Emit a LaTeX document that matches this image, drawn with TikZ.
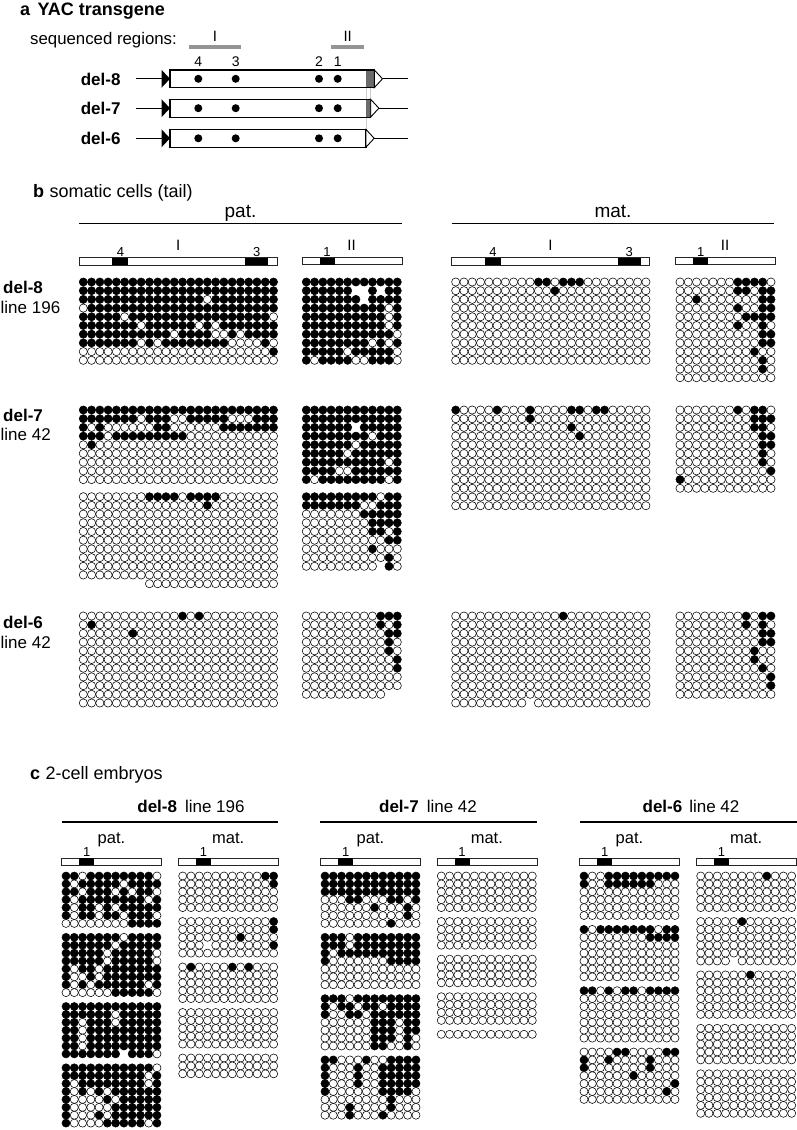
\documentclass[tikz,border=0pt]{standalone}
\usepackage{fontspec}
\setmainfont{Liberation Sans}
\usetikzlibrary{positioning}

\definecolor{bargray}{gray}{0.58}
\definecolor{endgray}{gray}{0.42}
\definecolor{guidegray}{gray}{0.8}

% grid of CpG circles: 1 = methylated, 0 = unmethylated, - = no data
\newcommand\cpdx{8.27}
\newcommand\cpdy{8.7}
\newcommand\cprad{4.1pt}
\newcommand\zs{000000000000}
\newcommand\zl{000000000000000000000000}

\makeatletter
\newcount\cp@col
\newcommand\cprow[3]{%
  \cp@col=0
  \def\cp@x{#1}\def\cp@y{#2}%
  \edef\cp@tmp{#3}%
  \expandafter\cp@scan\cp@tmp\@nil}
\def\cp@scan#1{%
  \ifx#1\@nil\else
    \cp@put#1%
    \advance\cp@col by 1
    \expandafter\cp@scan
  \fi}
\def\cp@put#1{%
  \if1#1\path[dotmeth] (\cp@x+\the\cp@col*\cpdx,\cp@y) circle[radius=\cprad];\fi
  \if0#1\path[dotunme] (\cp@x+\the\cp@col*\cpdx,\cp@y) circle[radius=\cprad];\fi}
\makeatother

\newcommand\cpgrid[3]{%
  \foreach \cprw [count=\cpri from 0] in {#3}{\cprow{#1}{#2+\cpri*\cpdy}{\cprw}}}
\newcommand\cpopen[4]{%
  \foreach \cpri in {1,...,#4}{\foreach \cpci in {1,...,#3}{%
    \path[dotunme] (#1+\cpci*\cpdx-\cpdx,#2+\cpri*\cpdy-\cpdy) circle[radius=\cprad];}}}

% sequenced region bars
\newcommand\longbar[2]{%
  \draw[regbar] (#1,#2) rectangle ++(198.3,7.3);
  \fill[black] (#1+33.3,#2) rectangle ++(16,7.3);
  \fill[black] (#1+166,#2) rectangle ++(23.3,7.3);}
\newcommand\shortbar[2]{%
  \draw[regbar] (#1,#2) rectangle ++(100,7);
  \fill[black] (#1+17.5,#2) rectangle ++(15,7);}

\begin{document}
\begin{tikzpicture}[x=1pt, y=-1pt,
  dotmeth/.style={fill=black, draw=black, line width=0.5pt},
  dotunme/.style={fill=white, draw=black, line width=0.55pt},
  regbar/.style={draw=black!85, fill=white, line width=0.7pt},
  ybox/.style={draw=black, line width=1.1pt},
  wire/.style={draw=black, line width=1.1pt},
  rule/.style={draw=black, line width=1.3pt},
  seqbar/.style={draw=bargray, line width=4pt},
  guide/.style={draw=guidegray, line width=0.8pt},
  ttl/.style={inner sep=0pt, font=\fontsize{18}{21}\selectfont},
  lbl/.style={inner sep=0pt, font=\fontsize{17}{20}\selectfont},
  strand/.style={inner sep=0pt, font=\fontsize{19}{22}\selectfont},
  strandc/.style={inner sep=0pt, font=\fontsize{16.5}{20}\selectfont},
  roman/.style={inner sep=0pt, font=\fontsize{15}{18}\selectfont},
  num/.style={inner sep=0pt, font=\fontsize{13}{15}\selectfont}]

\useasboundingbox[fill=white] (0,0) rectangle (797,1130);

%% a: transgene
\node[ttl, anchor=base west] (labA) at (20,15) {\bfseries a};
\node[ttl, base right=7pt of labA] (titA) {\bfseries YAC transgene};
\node[lbl, anchor=base west, font=\fontsize{16.8}{19}\selectfont] (seqreg) at (30,44) {sequenced regions:};
\draw[seqbar] (189,46.7) -- (240.7,46.7);
\draw[seqbar] (331,46.7) -- (364,46.7);
\node[roman, anchor=base] (aI) at (215,41.7) {I};
\node[roman, anchor=base] (aII) at (347.7,41.7) {II};
\node[num, anchor=base, font=\fontsize{14}{16}\selectfont] (a4) at (198.3,66.7) {4};
\node[num, anchor=base, font=\fontsize{14}{16}\selectfont] (a3) at (235.7,66.7) {3};
\node[num, anchor=base, font=\fontsize{14}{16}\selectfont] (a2) at (319,66.7) {2};
\node[num, anchor=base, font=\fontsize{14}{16}\selectfont] (a1) at (337.7,66.7) {1};

\draw[guide] (366.5,87.7) -- (366.5,129.4);
\draw[guide] (370.7,87.7) -- (370.7,99.3);

\foreach \nm/\yc/\ge in {8/78.8/374.3, 7/108.2/370.7, 6/138.3/366}{
  \node[lbl, anchor=base east] (del\nm) at (120.7,\yc+6.2) {\bfseries del-\nm};
  \draw[wire] (136,\yc) -- (163,\yc);
  \fill (161.5,\yc-9) -- (170,\yc) -- (161.5,\yc+9) -- cycle;
  \fill[white] (170,\yc-8.85) rectangle (\ge,\yc+8.85);
  \fill[endgray] (365.5,\yc-8.85) rectangle (\ge,\yc+8.85);
  \draw[ybox] (170,\yc-8.85) rectangle (\ge,\yc+8.85);
  \draw[ybox, fill=white, line width=0.9pt] (\ge,\yc-8.85) -- (\ge+8.2,\yc) -- (\ge,\yc+8.85) -- cycle;
  \draw[wire] (\ge+8.2,\yc) -- (408.3,\yc);
  \foreach \dx in {198.3,235.7,319,337.7}
    \fill (\dx,\yc) circle[radius=4pt];
}

%% b: somatic cells
\node[ttl, anchor=base west] (labB) at (33,197) {\bfseries b};
\node[ttl, base right=5pt of labB] (titB) {somatic cells (tail)};
\node[strand, anchor=base] (bpat) at (240.5,217) {pat.};
\node[strand, anchor=base] (bmat) at (613,217) {mat.};
\draw[rule] (79,223.3) -- (402,223.3);
\draw[rule] (451.7,223.3) -- (774.3,223.3);

\longbar{79}{257.7}
\shortbar{302}{257.7}
\longbar{451.5}{257.7}
\shortbar{675.7}{257.7}
\node[roman, anchor=base] (bpI) at (178.3,250) {I};
\node[roman, anchor=base] (bpII) at (351.5,250) {II};
\node[roman, anchor=base] (bmI) at (550.5,250) {I};
\node[roman, anchor=base] (bmII) at (725,250) {II};
\node[num, anchor=base] (bp4) at (120.6,256) {4};
\node[num, anchor=base] (bp3) at (256.7,256) {3};
\node[num, anchor=base] (bp1) at (327,256) {1};
\node[num, anchor=base] (bm4) at (493.1,256) {4};
\node[num, anchor=base] (bm3) at (629.2,256) {3};
\node[num, anchor=base] (bm1) at (700.7,256) {1};

\node[lbl, anchor=base west] (row8) at (3,293) {\bfseries del-8};
\node[lbl, anchor=base west] (row8l) at (0.5,313) {line 196};
\node[lbl, anchor=base west] (row7) at (3,421) {\bfseries del-7};
\node[lbl, anchor=base west] (row7l) at (0.5,440) {line 42};
\node[lbl, anchor=base west] (row6) at (3,628) {\bfseries del-6};
\node[lbl, anchor=base west] (row6l) at (0.5,648) {line 42};

% del-8
\cpgrid{83.3}{282}{111111111111111111111111,111111111111111111111111,
  111111111111111011111111,011111111111111111111111,111110111111111111111110,
  111111101111110101111111,111111111110111100101111,111111101011111111000010,
  000000000000000000000001,\zl}
\cpgrid{306.3}{282}{111111111111,111111--1-11,1111111-1111,111111111101,111111111101,
  111111111101,111111111110,111111110101,111110111110,101111001110}
\cpgrid{455.7}{282}{000000000011011100000000,000000000000100000000000,
  \zl,\zl,\zl,\zl,\zl,\zl,\zl,\zl}
\cpgrid{680}{282}{000000011110,000000011011,001000000011,000000010011,000000001111,
  000000010010,000000000011,000000000011,000000000100,000000000010,000000000010,\zs}

% del-7
\cpgrid{83.3}{410}{111111111111111111111111,111111101110011111000111,
  101000000110000001111111,111011111111100000000000,010000000000000000000000,
  \zl,\zl,\zl,\zl}
\cpgrid{83.3}{496.7}{000000001111011110000000,000000000000000100000000,
  \zl,\zl,\zl,\zl,\zl,\zl,\zl,\zl,--------0000000000000000}
\cpgrid{306.3}{410}{111111111111,111111111111,111111-11111,111111110111,111111011111,
  111110111111,111111111101,111100111111,101111111101}
\cpgrid{306.3}{496.7}{111111111011,111111100111,000000011111,000000001111,000000001101,
  000000000011,000000001000,000000000010,000000000-10}
\cpgrid{455.7}{410}{100001000100001101100000,000000000100000000000000,
  000000000000001000000000,000000000000000100000000,\zl,\zl,\zl,\zl,\zl,\zl,\zl,\zl}
\cpgrid{680}{410}{000000010110,000000000111,000000000110,000000000011,000000000011,
  000000000010,000000000010,000000000001,100000000000,\zs}

% del-6
\cpgrid{83.3}{616}{000000000000101000000000,010000000000000000000000,
  000000100000000000000000,\zl,\zl,\zl,\zl,\zl,\zl,\zl,\zl}
\cpgrid{306.3}{616}{000000000111,000000000101,000000000011,000000000010,000000000010,
  000000000001,000000000001,\zs,\zs,0000000000--}
\cpgrid{455.7}{616}{000000000000010000000000,\zl,\zl,\zl,\zl,\zl,\zl,\zl,\zl,\zl,
  000000000-00000000000000}
\cpgrid{680}{616}{000000001011,000000001010,000000000011,000000000011,000000000100,
  000000000100,000000000010,000000000001,000000000001,\zs}

%% c: 2-cell embryos
\node[ttl, anchor=base west] (labC) at (30,779) {\bfseries c};
\node[ttl, base right=5pt of labC] (titC) {2-cell embryos};

\node[lbl, anchor=base] (hd8) at (191,812) {\bfseries del-8\hspace{8pt}\mdseries line 196};
\node[lbl, anchor=base] (hd7) at (428,812) {\bfseries del-7\hspace{8pt}\mdseries line 42};
\node[lbl, anchor=base] (hd6) at (691,812) {\bfseries del-6\hspace{7pt}\mdseries line 42};
\draw[rule] (62,822) -- (278,822);
\draw[rule] (320,822) -- (537,822);
\draw[rule] (580,822) -- (797,822);

\foreach \gx/\nm in {66/p8, 182.7/m8, 325/p7, 441.3/m7, 584/p6, 700.7/m6}{
  \shortbar{\gx-4.3}{858}
  \node[num, anchor=base] (one\nm) at (\gx+20.7,856.5) {1};
}
\foreach \gx/\nm/\tx in {66/p8/pat., 182.7/m8/mat., 325/p7/pat., 441.3/m7/mat., 584/p6/pat., 700.7/m6/mat.}
  \node[strandc, anchor=base] (st\nm) at (\gx+45.5,843) {\tx};

\renewcommand\cpdy{7.9}
\renewcommand\cprad{4.05pt}
% del-8 pat
\cpgrid{66}{876}{110111111110,101111101111,110111010110,101111111101,101101011111,
  101101101110,000000001111}
\cpgrid{66}{937.3}{111111101111,111111011111,111110111110,111110111110,101101111111,
  100101111111,101011111101,000000111110}
\cpgrid{66}{1006.5}{111111111111,111111011111,110111011111,110111111111,110111111111,
  110111111111,1111111-1110}
\cpgrid{66}{1067.8}{111111111110,111111111101,101111111101,101010111111,100001011111,
  100000111111,100010111111,100001111101}
% del-8 mat
\cpgrid{182.7}{876}{000000000011,000000000001,\zs,\zs,\zs}
\cpgrid{182.7}{921.5}{000000000001,000000000001,000000010000,000-00000001,\zs}
\cpgrid{182.7}{967}{010000101000,\zs,\zs,\zs,\zs}
\cpopen{182.7}{1012.5}{12}{5}
\cpopen{182.7}{1058}{12}{3}

% del-7 pat
\cpgrid{325}{876}{111111111111,111111111111,111111111111,000110001101,000000100010,
  000000000010,000000001000}
\cpgrid{325}{937.3}{111011111111,111011111111,101111111111,100000001111,\zs,\zs,\zs}
\cpgrid{325}{998.6}{111011111111,101101101111,100110111111,000000111011,000000111011,
  000000111010,000000110010}
\cpgrid{325}{1059.9}{110001001111,100010011111,100010011111,100010011111,100000011110,
  000000001000,000100001000,000100010000}
% del-7 mat
\cpopen{441.3}{876}{12}{5}
\cpopen{441.3}{921.5}{12}{4}
\cpopen{441.3}{959.1}{12}{4}
\cpopen{441.3}{996.7}{12}{4}
\cpopen{441.3}{1034.3}{12}{1}

% del-6 pat
\cpgrid{584}{876}{100111111111,100111111000,\zs,\zs,\zs,\zs}
\cpgrid{584}{929.4}{101111111011,000000001111,\zs,\zs,\zs,\zs,\zs}
\cpgrid{584}{990.7}{110101101111,\zs,\zs,\zs,\zs,\zs,\zs}
\cpgrid{584}{1052}{000011000011,100100001000,100000001000,000000100000,000000000001,
  000000000010,\zs}
% del-6 mat
\cpgrid{700.7}{876}{000000001000,\zs,\zs,\zs,\zs}
\cpgrid{700.7}{921.5}{000001000000,\zs,\zs,\zs,\zs,0000-0000000}
\cpgrid{700.7}{974.9}{000000100000,\zs,\zs,\zs,\zs,\zs}
\cpopen{700.7}{1028.3}{12}{5}
\cpopen{700.7}{1073.8}{12}{6}

\end{tikzpicture}
\end{document}
